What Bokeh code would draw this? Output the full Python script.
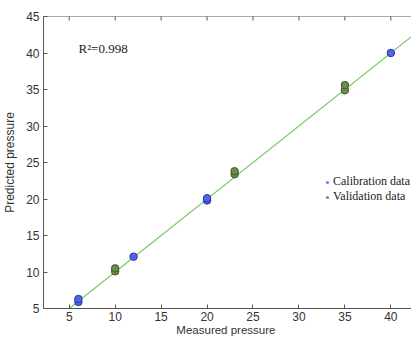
import math
from bokeh.plotting import figure
from bokeh.models import Range1d, FixedTicker, Legend, LegendItem, Label, Span
from bokeh.embed import file_html
from bokeh.resources import INLINE

# Data
cal_measured = [6, 6, 12, 20, 20, 40]
cal_predicted = [5.9, 6.3, 12.1, 19.8, 20.1, 40.0]
val_measured = [10, 10, 23, 23, 35, 35]
val_predicted = [10.1, 10.5, 23.4, 23.8, 34.9, 35.6]
fit_x = [5, 42.3]
fit_slope = 1.0
fit_intercept = 0.0
fit_y = [fit_slope * v + fit_intercept for v in fit_x]
x_ticks = [5, 10, 15, 20, 25, 30, 35, 40]
y_ticks = [5, 10, 15, 20, 25, 30, 35, 40, 45]
y_top = 45
r2_text = "R\u00b2=0.998"

p = figure(output_backend="svg", toolbar_location=None,
           x_range=Range1d(2.2, 42.25), y_range=Range1d(5, y_top),
           frame_width=368, frame_height=292,
           min_border_left=38, min_border_right=0, min_border_top=16, min_border_bottom=0)
p.outline_line_color = None
p.grid.visible = False
p.background_fill_color = "white"

tick_font = "Liberation Sans"
for ax in [p.xaxis[0], p.yaxis[0]]:
    ax.major_tick_in = 4
    ax.major_tick_out = 0
    ax.minor_tick_line_color = None
    ax.axis_line_color = "#555555"
    ax.major_tick_line_color = "#555555"
    ax.major_label_text_font = tick_font
    ax.major_label_text_font_size = "12px"
    ax.major_label_text_color = "#333333"
    ax.axis_label_text_font = tick_font
    ax.axis_label_text_font_size = "12px"
    ax.axis_label_text_font_style = "normal"
    ax.axis_label_text_color = "#333333"
p.xaxis[0].ticker = FixedTicker(ticks=x_ticks)
p.yaxis[0].ticker = FixedTicker(ticks=y_ticks)
p.xaxis[0].axis_label = "Measured  pressure"
p.yaxis[0].axis_label = "Predicted pressure"
p.xaxis[0].axis_label_text_font_size = "11.5px"
p.xaxis[0].axis_label_standoff = 0
p.yaxis[0].axis_label_standoff = 6
p.xaxis[0].major_label_standoff = 3
p.yaxis[0].major_label_standoff = 4

# top border with inward ticks
p.add_layout(Span(location=y_top, dimension="width", line_color="#555555", line_width=1))
p.scatter(x_ticks, [y_top] * len(x_ticks), marker="dash", angle=math.pi / 2, size=8,
          line_color="#555555", line_width=1)

p.line(fit_x, fit_y, line_color="#77cc66", line_width=1.2)
c = p.scatter(cal_measured, cal_predicted, size=7.5, fill_color="#5064ea",
              line_color="#2a3a99", line_width=1)
v = p.scatter(val_measured, val_predicted, size=7.5, fill_color="#6a8c4c",
              line_color="#3d5a2a", line_width=1)

lc = p.scatter([None], [None], size=6, fill_color="#6f7ff0", line_color=None)
lv = p.scatter([None], [None], size=6, fill_color="#7f8f6c", line_color=None)

legend = Legend(items=[LegendItem(label="Calibration data", renderers=[lc]),
                       LegendItem(label="Validation data", renderers=[lv])],
                location=(280, 104), border_line_color=None, background_fill_alpha=0,
                label_text_font="Liberation Serif", label_text_font_size="12px",
                label_text_color="#222222", glyph_width=8, glyph_height=12,
                label_height=12, spacing=0, label_standoff=2, padding=0, margin=0)
p.add_layout(legend, "center")

p.add_layout(Label(x=35, y=253, x_units="screen", y_units="screen", text=r2_text,
                   text_font="Liberation Serif", text_font_size="13px",
                   text_color="#222222"))

open("out.html", "w").write(file_html(p, INLINE))
